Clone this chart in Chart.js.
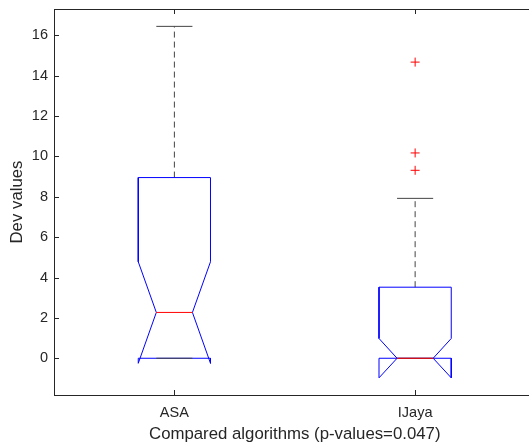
<!DOCTYPE html>
<html>
<head>
<meta charset="utf-8">
<script src="https://cdn.jsdelivr.net/npm/chart.js@4.4.1/dist/chart.umd.min.js"></script>
<style>
  html, body { margin: 0; padding: 0; background: #fff; overflow: hidden; }
  canvas { display: block; }
</style>
</head>
<body>
<canvas id="box-chart" width="541" height="448"></canvas>
<script>
// Box statistics
const categories = ['ASA', 'IJaya'];
const q1 = [0, 0];
const medians = [2.27, 0];
const q3 = [8.95, 3.52];
const notchLow = [-0.25, -0.97];
const notchHigh = [4.78, 0.98];
const whiskerLow = [0, 0];
const whiskerHigh = [16.44, 7.92];
const outliers = [[], [14.67, 10.17, 9.31]];
const yTicks = [0, 2, 4, 6, 8, 10, 12, 14, 16];

const BOX_HALF = 0.15;
const axisColor = '#262626';
const whiskerColor = '#444444';
const fontFamily = '"Liberation Sans", Arial, Helvetica, sans-serif';

function seg(points, color, dash) {
    return {
        type: 'line',
        data: points,
        borderColor: color,
        borderWidth: 1,
        borderDash: dash || [],
        pointRadius: 0,
        fill: false,
        tension: 0
    };
}

// Build datasets (first pushed is drawn on top)
const datasets = [];
categories.forEach((name, i) => {
    const x = i + 1;
    const w = BOX_HALF;
    if (outliers[i].length) {
        datasets.push({
            type: 'scatter',
            data: outliers[i].map(v => ({ x: x, y: v })),
            pointStyle: 'cross',
            pointRadius: 4.5,
            borderColor: '#ff0000',
            backgroundColor: '#ff0000',
            borderWidth: 1
        });
    }
    datasets.push(seg([{ x: x - w / 2, y: medians[i] }, { x: x + w / 2, y: medians[i] }], '#ff0000'));
    datasets.push(seg([{ x: x - w / 2, y: whiskerHigh[i] }, { x: x + w / 2, y: whiskerHigh[i] }], whiskerColor));
    datasets.push(seg([{ x: x - w / 2, y: whiskerLow[i] }, { x: x + w / 2, y: whiskerLow[i] }], whiskerColor));
    datasets.push(seg([
        { x: x - w, y: q3[i] },
        { x: x - w, y: notchHigh[i] },
        { x: x - w / 2, y: medians[i] },
        { x: x - w, y: notchLow[i] },
        { x: x - w, y: q1[i] },
        { x: x + w, y: q1[i] },
        { x: x + w, y: notchLow[i] },
        { x: x + w / 2, y: medians[i] },
        { x: x + w, y: notchHigh[i] },
        { x: x + w, y: q3[i] },
        { x: x - w, y: q3[i] }
    ], '#0000ff'));
    datasets.push(seg([{ x: x, y: q3[i] }, { x: x, y: whiskerHigh[i] }], whiskerColor, [6, 4]));
    datasets.push(seg([{ x: x, y: whiskerLow[i] }, { x: x, y: q1[i] }], whiskerColor, [6, 4]));
});

// Frame and inward MATLAB-style ticks
const framePlugin = {
    id: 'frameTicks',
    afterDatasetsDraw(chart) {
        const { ctx, chartArea: a, scales } = chart;
        const len = 5;
        ctx.save();
        ctx.strokeStyle = axisColor;
        ctx.lineWidth = 1;
        ctx.strokeRect(a.left + 0.5, a.top + 0.5, a.right - a.left - 1, a.bottom - a.top);
        ctx.beginPath();
        scales.y.ticks.forEach(t => {
            const py = Math.round(scales.y.getPixelForValue(t.value)) + 0.5;
            ctx.moveTo(a.left, py); ctx.lineTo(a.left + len, py);
            ctx.moveTo(a.right, py); ctx.lineTo(a.right - len, py);
        });
        scales.x.ticks.forEach(t => {
            const px = Math.round(scales.x.getPixelForValue(t.value)) + 0.5;
            ctx.moveTo(px, a.bottom); ctx.lineTo(px, a.bottom - len);
            ctx.moveTo(px, a.top); ctx.lineTo(px, a.top + len);
        });
        ctx.stroke();
        ctx.restore();
    }
};

new Chart(document.getElementById('box-chart'), {
    type: 'scatter',
    data: { datasets: datasets },
    options: {
        responsive: false,
        animation: false,
        layout: { padding: { top: 9, right: 0, left: 0, bottom: 0 } },
        plugins: {
            legend: { display: false },
            tooltip: { enabled: false }
        },
        scales: {
            x: {
                type: 'linear',
                min: 0.5,
                max: 2.5,
                afterBuildTicks: s => { s.ticks = categories.map((c, i) => ({ value: i + 1 })); },
                afterFit: s => { s.height = 53; s.paddingLeft = 0; s.paddingRight = 0; },
                grid: { display: false, tickLength: 0 },
                border: { display: false },
                ticks: {
                    padding: 9,
                    color: axisColor,
                    font: { family: fontFamily, size: 14.5 },
                    callback: v => categories[Math.round(v) - 1]
                },
                title: {
                    display: true,
                    text: 'Compared algorithms (p-values=0.047)',
                    color: axisColor,
                    font: { family: fontFamily, size: 16.8 },
                    padding: { top: 0, bottom: 4 }
                }
            },
            y: {
                type: 'linear',
                min: -1.82,
                max: 17.3,
                afterBuildTicks: s => { s.ticks = yTicks.map(v => ({ value: v })); },
                afterFit: s => { s.width = 54; s.paddingTop = 0; s.paddingBottom = 0; },
                grid: { display: false, tickLength: 0 },
                border: { display: false },
                ticks: {
                    padding: 6,
                    color: axisColor,
                    font: { family: fontFamily, size: 14.5 }
                },
                title: {
                    display: true,
                    text: 'Dev values',
                    color: axisColor,
                    font: { family: fontFamily, size: 16.8 },
                    padding: { top: 7, bottom: 0 }
                }
            }
        }
    },
    plugins: [framePlugin]
});
</script>
</body>
</html>
